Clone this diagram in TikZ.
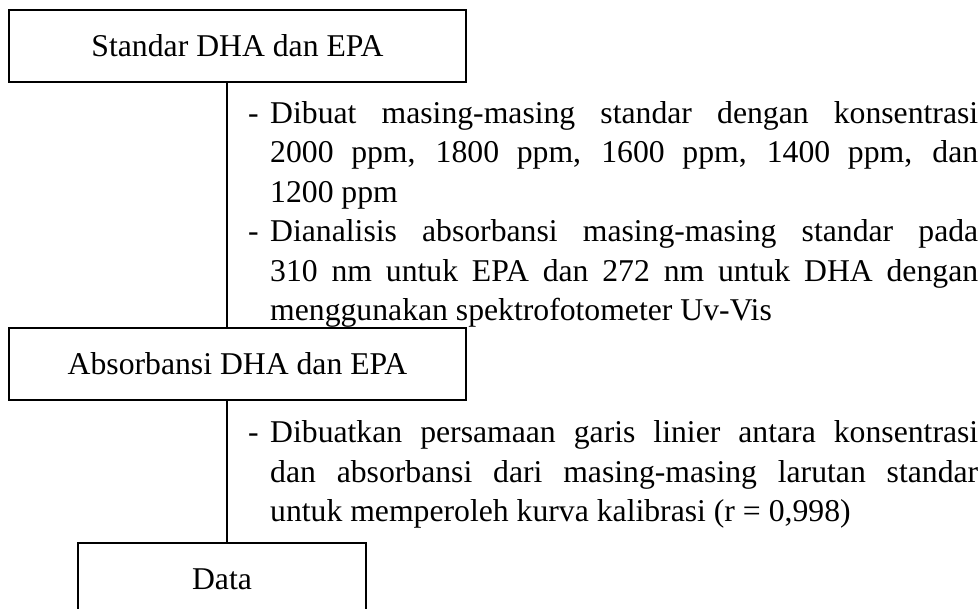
\documentclass[tikz,border=0pt]{standalone}
\usepackage{fontspec}
\setmainfont{Liberation Serif}
\newcommand{\dashitem}{\par\noindent\hangindent=22pt\hangafter=1\makebox[22pt][l]{-}}
\tikzset{
  box/.style={draw=black, line width=1.2pt, inner sep=0pt, minimum height=72pt, align=center,
    font=\fontsize{31.7}{39.4}\selectfont},
  desc/.style={inner sep=0pt, anchor=north west, text width=730pt, align=justify,
    font=\fontsize{31.7}{39.4}\selectfont},
  link/.style={draw=black, line width=1.2pt}
}
\begin{document}
\begin{tikzpicture}[x=1pt,y=-1pt]
\useasboundingbox (0,0) rectangle (980,609);
\clip (0,0) rectangle (980,609);
\node[box, minimum width=457pt] (b1) at (237.5,46) {Standar DHA dan EPA};
\node[box, minimum width=457pt] (b2) at (237.5,364) {Absorbansi DHA dan EPA};
\node[box, minimum width=288pt] (b3) at (222,579) {Data};
\coordinate (spine) at (227,0);
\node[desc] (t1) at (248,84) {\hyphenpenalty=10000\exhyphenpenalty=10000%
\dashitem\rule{0pt}{25pt}Dibuat masing-masing standar dengan konsentrasi\linebreak
2000 ppm, 1800 ppm, 1600 ppm, 1400 ppm, dan\linebreak
1200 ppm
\dashitem Dianalisis absorbansi masing-masing standar pada\linebreak
310 nm untuk EPA dan 272 nm untuk DHA dengan\linebreak
menggunakan spektrofotometer Uv-Vis\par};
\node[desc] (t2) at (248,403) {\hyphenpenalty=10000\exhyphenpenalty=10000%
\dashitem\rule{0pt}{25pt}Dibuatkan persamaan garis linier antara konsentrasi\linebreak
dan absorbansi dari masing-masing larutan standar\linebreak
untuk memperoleh kurva kalibrasi (r = 0,998)\par};
\draw[link] (b1.south -| spine) -- (b2.north -| spine);
\draw[link] (b2.south -| spine) -- (b3.north -| spine);
\end{tikzpicture}
\end{document}
